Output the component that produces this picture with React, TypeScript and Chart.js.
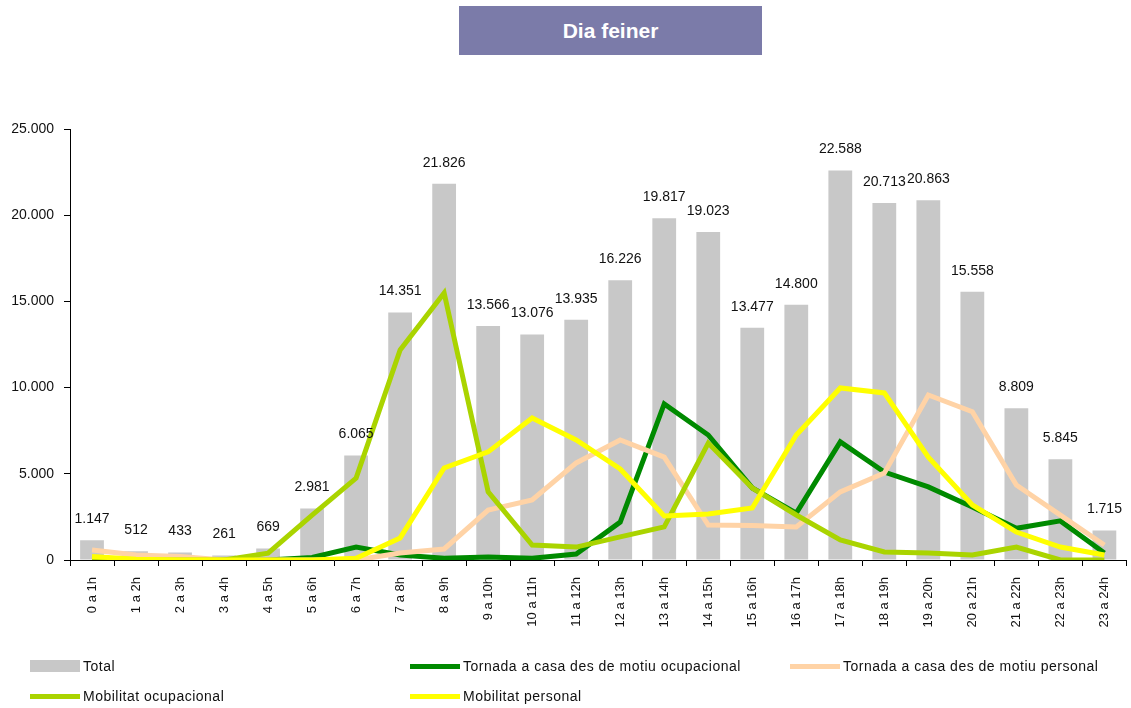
import React, { useEffect, useRef } from "react";
import { Chart, registerables } from "chart.js";

Chart.register(...registerables);

const hours = [
  "0 a 1h", "1 a 2h", "2 a 3h", "3 a 4h", "4 a 5h", "5 a 6h", "6 a 7h", "7 a 8h",
  "8 a 9h", "9 a 10h", "10 a 11h", "11 a 12h", "12 a 13h", "13 a 14h", "14 a 15h",
  "15 a 16h", "16 a 17h", "17 a 18h", "18 a 19h", "19 a 20h", "20 a 21h", "21 a 22h",
  "22 a 23h", "23 a 24h",
];

const total = [1147, 512, 433, 261, 669, 2981, 6065, 14351, 21826, 13566, 13076, 13935, 16226, 19817, 19023, 13477, 14800, 22588, 20713, 20863, 15558, 8809, 5845, 1715];
const tornadaOcupacional = [0, 0, 0, 0, 0, 150, 750, 290, 100, 170, 100, 350, 2200, 9050, 7250, 4180, 2720, 6850, 5100, 4240, 3070, 1840, 2270, 400];
const tornadaPersonal = [580, 290, 200, 0, 0, 0, 0, 400, 640, 2900, 3480, 5630, 6960, 5970, 2030, 2000, 1910, 3950, 5040, 9570, 8600, 4350, 2600, 870];
const mobilitatOcupacional = [0, 0, 0, 0, 400, 2600, 4750, 12180, 15490, 3950, 870, 750, 1340, 1920, 6780, 4180, 2610, 1160, 470, 400, 290, 750, 0, 0];
const mobilitatPersonal = [200, 50, 0, 0, 0, 0, 100, 1280, 5340, 6270, 8240, 6960, 5280, 2550, 2670, 3020, 7250, 9980, 9690, 5970, 3190, 1620, 750, 290];

const yTicks = [0, 5000, 10000, 15000, 20000, 25000];

const FONT = "Arial, 'Liberation Sans', sans-serif";
const C_TOTAL = "#C8C8C8";
const C_TORN_OC = "#008A00";
const C_TORN_PE = "#FFD3A6";
const C_MOB_OC = "#AAD400";
const C_MOB_PE = "#FFFF00";

const fmt = (v: number) => String(Math.round(v)).replace(/\B(?=(\d{3})+(?!\d))/g, ".");

const barLabels = {
  id: "barLabels",
  afterDatasetsDraw(chart: any) {
    const idx = chart.data.datasets.findIndex((d: any) => d.type === "bar");
    const meta = chart.getDatasetMeta(idx);
    const ctx = chart.ctx;
    ctx.save();
    ctx.font = `14px ${FONT}`;
    ctx.fillStyle = "#111";
    ctx.textAlign = "center";
    ctx.textBaseline = "middle";
    meta.data.forEach((el: any, i: number) => {
      ctx.fillText(fmt(total[i]), el.x, el.y - 21);
    });
    ctx.restore();
  },
};

const legendItems = [
  { label: "Total", color: C_TOTAL, kind: "box", left: 30, top: 658 },
  { label: "Tornada a casa des de motiu ocupacional", color: C_TORN_OC, kind: "line", left: 410, top: 658 },
  { label: "Tornada a casa des de motiu personal", color: C_TORN_PE, kind: "line", left: 790, top: 658 },
  { label: "Mobilitat ocupacional", color: C_MOB_OC, kind: "line", left: 30, top: 688 },
  { label: "Mobilitat personal", color: C_MOB_PE, kind: "line", left: 410, top: 688 },
];

export default function App() {
  const ref = useRef<HTMLCanvasElement>(null);

  useEffect(() => {
    if (!ref.current) return;
    const lineDs = (label: string, data: number[], color: string) => ({
      type: "line" as const,
      label,
      data,
      borderColor: color,
      backgroundColor: color,
      borderWidth: 5,
      pointRadius: 0,
      tension: 0,
      fill: false,
    });
    const chart = new Chart(ref.current, {
      type: "bar",
      data: {
        labels: hours,
        datasets: [
          lineDs("Mobilitat personal", mobilitatPersonal, C_MOB_PE),
          lineDs("Mobilitat ocupacional", mobilitatOcupacional, C_MOB_OC),
          lineDs("Tornada a casa des de motiu personal", tornadaPersonal, C_TORN_PE),
          lineDs("Tornada a casa des de motiu ocupacional", tornadaOcupacional, C_TORN_OC),
          {
            type: "bar" as const,
            label: "Total",
            data: total,
            backgroundColor: C_TOTAL,
            borderWidth: 0,
            barPercentage: 0.54,
            categoryPercentage: 1,
          } as any,
        ],
      },
      options: {
        animation: false,
        responsive: false,
        maintainAspectRatio: false,
        layout: { padding: { top: 129, left: 0, right: 0, bottom: 58 } },
        plugins: { legend: { display: false }, tooltip: { enabled: false }, title: { display: false } },
        scales: {
          x: {
            offset: true,
            grid: { offset: true, drawOnChartArea: false, drawTicks: true, tickLength: 6, color: "#000" },
            border: { display: true, color: "#000", width: 1 },
            ticks: {
              autoSkip: false,
              maxRotation: 90,
              minRotation: 90,
              padding: 11,
              color: "#111",
              font: { family: FONT, size: 13 },
            },
            afterFit: (s: any) => { s.height = 90; },
          },
          y: {
            min: 0,
            max: 25000,
            afterBuildTicks: (s: any) => { s.ticks = yTicks.map((v) => ({ value: v })); },
            grid: { drawOnChartArea: false, drawTicks: true, tickLength: 6, color: "#000" },
            border: { display: true, color: "#000", width: 1 },
            ticks: {
              padding: 10,
              color: "#111",
              font: { family: FONT, size: 14 },
              callback: (v: any) => fmt(Number(v)),
            },
            afterFit: (s: any) => { s.width = 70; },
          },
        },
      },
      plugins: [barLabels],
    });
    return () => chart.destroy();
  }, []);

  return (
    <div style={{ position: "absolute", left: 0, top: 0, width: 1131, height: 708, background: "#fff", fontFamily: FONT }}>
      <canvas ref={ref} width={1131} height={708} style={{ position: "absolute", left: 0, top: 0 }} />
      <div
        style={{
          position: "absolute", left: 459, top: 6, width: 303, height: 49,
          background: "#7B7BA9", color: "#fff", fontWeight: "bold", fontSize: 21,
          display: "flex", alignItems: "center", justifyContent: "center",
        }}
      >
        Dia feiner
      </div>
      {legendItems.map((it) => (
        <div key={it.label} style={{ position: "absolute", left: it.left, top: it.top, height: 16, display: "flex", alignItems: "center" }}>
          <div style={{ width: 50, height: it.kind === "box" ? 12 : 5, background: it.color, marginRight: 3 }} />
          <span style={{ fontSize: 14, letterSpacing: 0.5, color: "#111", whiteSpace: "nowrap" }}>{it.label}</span>
        </div>
      ))}
    </div>
  );
}
